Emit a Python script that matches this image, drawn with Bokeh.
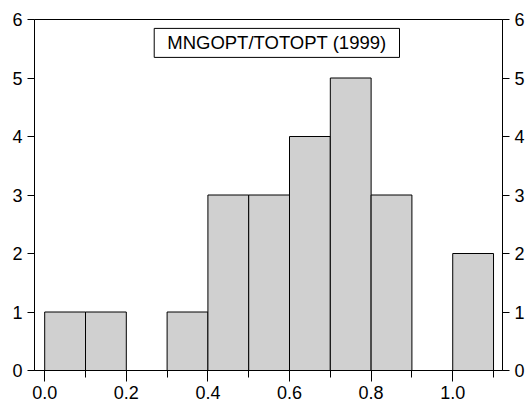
from bokeh.plotting import figure
from bokeh.models import LinearAxis, FixedTicker, Label, NumeralTickFormatter
from bokeh.embed import file_html
from bokeh.resources import INLINE

bin_edges = [0.0, 0.1, 0.2, 0.3, 0.4, 0.5, 0.6, 0.7, 0.8, 0.9, 1.0, 1.1]
counts = [1, 1, 0, 1, 3, 3, 4, 5, 3, 0, 2]
x_major = [0.0, 0.2, 0.4, 0.6, 0.8, 1.0]
x_minor = [0.1, 0.3, 0.5, 0.7, 0.9, 1.1]
y_ticks = [0, 1, 2, 3, 4, 5, 6]
title_text = "MNGOPT/TOTOPT (1999)"

FONT = "Liberation Sans"

p = figure(width=528, height=404, x_range=(-0.025, 1.122), y_range=(0, 6),
           output_backend="svg", toolbar_location=None,
           min_border_left=34, min_border_top=19, min_border_right=26, min_border_bottom=34)

p.quad(left=bin_edges[:-1], right=bin_edges[1:], bottom=0, top=counts,
       fill_color="#d0d0d0", line_color="black", line_width=1)

p.xgrid.visible = False
p.ygrid.visible = False
p.outline_line_color = "black"
p.outline_line_alpha = 1
p.outline_line_width = 1
p.background_fill_color = "white"
p.border_fill_color = "white"

p.add_layout(LinearAxis(), "right")

for ax in p.xaxis:
    ax.ticker = FixedTicker(ticks=x_major, minor_ticks=x_minor)
    ax.formatter = NumeralTickFormatter(format="0.0")
    ax.major_tick_out = 11
    ax.major_tick_in = 0
    ax.minor_tick_out = 7
    ax.minor_tick_in = 0
    ax.major_label_standoff = 4
    ax.major_label_text_font = FONT
    ax.major_label_text_font_size = "18px"
    ax.major_label_text_color = "black"
    ax.axis_line_color = "black"
    ax.major_tick_line_color = "black"
    ax.minor_tick_line_color = "black"

for ax in p.yaxis:
    ax.ticker = FixedTicker(ticks=y_ticks)
    ax.major_tick_out = 7
    ax.major_tick_in = 0
    ax.minor_tick_line_color = None
    ax.major_label_standoff = 5
    ax.major_label_text_font = FONT
    ax.major_label_text_font_size = "18px"
    ax.major_label_text_color = "black"
    ax.axis_line_color = "black"
    ax.major_tick_line_color = "black"

lbl = Label(x=0.569, y=5.6, text=title_text, text_align="center", text_baseline="middle",
            text_font=FONT, text_font_size="18.5px", text_color="black",
            border_line_color="black", border_line_width=1,
            background_fill_color="white", padding=(13, 4))
p.add_layout(lbl)

open("out.html", "w").write(file_html(p, INLINE))
